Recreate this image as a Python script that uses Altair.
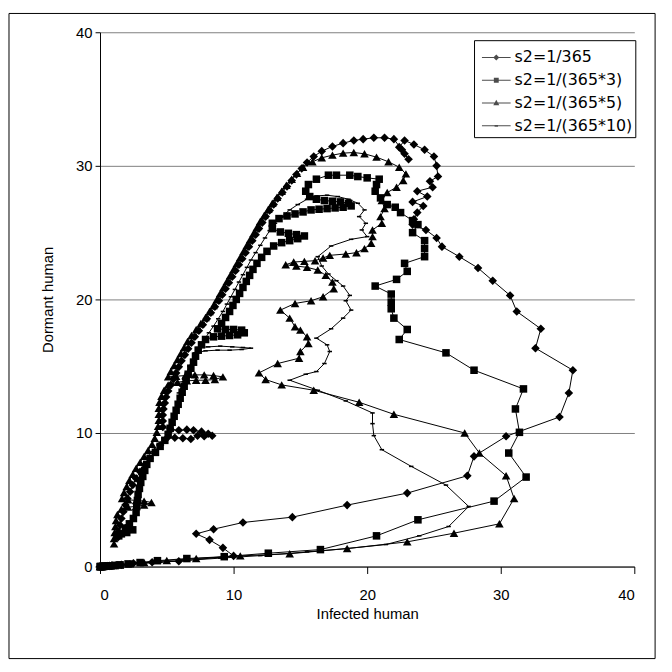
import altair as alt
import pandas as pd

names = ["s2=1/365", "s2=1/(365*3)", "s2=1/(365*5)", "s2=1/(365*10)"]

# ---------------- s2 = 1/365 (diamonds) ----------------
diamond_start = [(0,0),(0.05,0.0),(0.1,0.0),(0.15,0.01),(0.2,0.01),(0.3,0.02),(0.4,0.03),(0.55,0.04),
    (0.7,0.05),(0.9,0.07),(1.2,0.1),(1.6,0.14),(2.5,0.25),(3.9,0.32),(5.9,0.4),(10.0,0.8),(9.2,1.4),
    (8.2,2.0),(7.2,2.45),(8.5,2.8),(10.7,3.3),(14.4,3.7),(18.5,4.6),(23.0,5.5),(27.5,6.8),(28.0,8.25),
    (30.4,9.75),(34.4,11.2),(35.1,13.0),(35.4,14.7),(32.6,16.35),(33.0,17.8),(31.2,19.1),(30.7,20.3),
    (29.4,21.4),(28.3,22.35),(26.9,23.2),(25.6,23.95),(25.2,24.6),(24.4,25.2),(23.4,25.6),(23.5,26.0),
    (23.75,26.5),(24.2,27.0),(23.4,27.3),(24.5,27.7),(23.75,28.1),(24.9,28.4),(24.7,28.85),(25.3,29.2),
    (25.2,30.0),(25.0,30.7),(24.3,31.2),(23.5,31.6),(22.8,31.9),(22.4,31.4),(22.8,30.9),(23.1,30.5),
    (22.6,31.2),(22.0,32.0),(21.3,32.1),(20.5,32.1),(19.7,32.0),(19.0,31.9),(18.2,31.7),(17.4,31.45),
    (16.6,31.1)]
diamond_band = [(16.0,30.7),(15.5,30.25),(15.1,29.8),(14.7,29.35),(14.35,28.9),(14.0,28.45),(13.65,28.0),
    (13.3,27.55),(13.0,27.1),(12.7,26.65),(12.4,26.2),(12.15,25.75),(11.9,25.3),(11.65,24.85),(11.4,24.4),
    (11.15,23.95),(10.9,23.5),(10.65,23.05),(10.4,22.6),(10.15,22.15),(9.9,21.7),(9.65,21.25),(9.4,20.8),
    (9.15,20.35),(8.9,19.9),(8.6,19.45),(8.3,19.0),(8.0,18.55),(7.7,18.1),(7.4,17.65),(7.1,17.2),
    (6.85,16.75),(6.6,16.3),(6.35,15.85),(6.1,15.4),(5.9,14.95),(5.7,14.5),(5.5,14.05),(5.3,13.6),
    (5.1,13.15),(4.95,12.7),(4.85,12.25),(4.75,11.8),(4.7,11.35),(4.7,10.9),(4.7,10.45),(5.3,10.25),
    (5.9,10.2),(6.5,10.25),(7.0,10.2),(7.6,10.1),(8.1,9.95),(8.4,9.8),(7.8,9.75),(7.3,9.8),(6.8,9.55),
    (6.2,9.6),(5.6,9.65),(5.0,9.6),(4.5,9.1),(4.1,8.6),(3.7,8.1),(3.35,7.6),(3.0,7.1),(2.7,6.6),
    (2.45,6.1),(2.25,5.6),(2.05,5.1),(1.9,4.6),(1.75,4.1),(1.6,3.6),(1.5,3.1),(1.4,2.6),(1.35,2.2)]

# ---------------- s2 = 1/(365*3) (squares) ----------------
square_start = [(0,0),(0.05,0),(0.1,0.0),(0.2,0.01),(0.3,0.02),(0.45,0.03),(0.6,0.05),(0.8,0.06),
    (1.1,0.09),(1.5,0.13),(2.1,0.2),(3.0,0.3),(4.3,0.44),(6.5,0.6),(9.3,0.74),(12.6,1.0),(16.5,1.27),
    (20.7,2.3),(23.8,3.5),(29.5,4.9),(31.9,6.7),(30.6,8.5),(31.4,10.05),(31.1,11.8),(31.7,13.3),
    (28.0,14.7),(25.9,16.0),(22.4,17.0),(23.0,17.75),(22.0,18.6),(21.8,19.3),(21.8,19.8),(21.8,20.4),
    (20.6,21.0),(22.2,21.5),(23.0,22.1),(22.8,22.7),(24.3,23.2),(24.3,23.8),(24.3,24.4),(23.4,25.0),
    (23.8,25.6),(23.4,25.9),(22.5,26.5),(22.1,26.9),(21.5,27.1),(21.0,27.6),(20.6,28.1),(20.7,28.6),
    (20.9,29.0),(20.0,29.1),(19.3,29.2),(18.7,29.3),(17.7,29.3),(17.1,29.3),(16.2,29.0),(15.6,28.6),
    (15.4,28.1),(15.7,27.7),(16.2,27.5),(16.8,27.4),(17.4,27.35),(18.0,27.3),(18.6,27.2),(18.8,27.0),
    (18.2,26.9),(17.6,26.85),(17.0,26.8),(16.4,26.75),(15.8,26.7),(15.2,26.55),(14.6,26.4),(14.0,26.25),
    (13.4,26.05),(12.9,25.7),(12.9,25.3),(13.5,25.05),(14.1,24.95),(14.7,24.85),(15.3,24.75),(14.8,24.55),
    (14.2,24.4),(13.6,24.25),(13.0,24.0)]
square_band = [(12.5,23.6),(12.1,23.15),(11.75,22.7),(11.45,22.25),(11.2,21.8),(10.95,21.35),(10.7,20.9),
    (10.45,20.45),(10.2,20.0),(9.95,19.55),(9.7,19.1),(9.4,18.65),(9.1,18.2),(8.8,17.8),(9.4,17.75),
    (10.0,17.75),(10.6,17.7),(10.8,17.5),(10.3,17.35),(9.7,17.3),(9.1,17.25),(8.5,17.2),(7.9,17.0),
    (7.6,16.6),(7.35,16.2),(7.15,15.75),(7.0,15.3),(6.8,14.85),(6.6,14.4),(6.45,13.95),(6.3,13.5),
    (6.15,13.05),(6.0,12.6),(5.85,12.15),(5.7,11.7),(5.55,11.25),(5.4,10.8),(5.25,10.35),(5.1,9.9),
    (4.85,9.45),(4.5,9.0),(4.15,8.55),(3.75,8.1),(3.5,7.65),(3.35,7.2),(3.2,6.75),(3.05,6.3),(2.95,5.85),
    (2.85,5.4),(2.8,4.95),(2.75,4.5),(2.7,4.05),(2.5,3.6),(2.2,3.2),(1.9,2.85),(2.1,2.9),(2.45,2.75),
    (2.0,2.55),(1.6,2.45),(1.4,2.3)]

# ---------------- s2 = 1/(365*5) (triangles) ----------------
triangle_start = [(0,0),(0.05,0),(0.1,0.01),(0.2,0.01),(0.3,0.02),(0.45,0.03),(0.6,0.04),(0.8,0.06),
    (1.1,0.08),(1.5,0.12),(2.2,0.2),(3.3,0.3),(5.0,0.45),(7.2,0.6),(10.5,0.8),(14.2,0.96),(18.5,1.35),
    (23.0,1.85),(26.5,2.5),(29.9,3.2),(31.0,5.1),(30.4,6.8),(28.4,8.5),(27.3,10.0),(22.0,11.4),(19.4,12.3),
    (16.0,13.2),(13.6,13.6),(12.4,14.0),(11.9,14.5),(13.3,15.2),(14.9,15.6),(15.0,16.1),(15.6,16.7),
    (15.5,17.2),(15.0,17.7),(14.6,17.95),(14.2,18.6),(13.5,19.2),(14.6,19.7),(15.8,19.9),(16.7,20.2),
    (17.5,20.8),(17.4,21.3),(16.9,21.8),(16.3,22.2),(15.5,22.4),(14.7,22.5),(13.9,22.6),(14.5,22.8),
    (15.3,22.85),(16.1,22.9),(16.7,23.1),(17.2,23.3),(18.4,23.4),(19.2,23.5),(19.8,23.8),(20.3,24.2),
    (20.4,24.7),(20.4,25.2),(21.1,25.7),(21.0,26.2),(21.3,26.8),(21.1,27.4),(21.5,28.0),(22.2,28.4),
    (22.7,28.9),(22.9,29.4),(22.4,29.9),(21.6,30.3),(20.7,30.65),(19.8,30.9),(19.0,31.0),(18.2,30.95),
    (17.4,30.8),(16.6,30.6),(15.9,30.3)]
triangle_band = [(15.2,29.9),(14.75,29.45),(14.35,29.0),(13.95,28.55),(13.6,28.1),(13.25,27.65),(12.9,27.2),
    (12.6,26.75),(12.3,26.3),(12.0,25.85),(11.75,25.4),(11.5,24.95),(11.25,24.5),(11.0,24.05),(10.75,23.6),
    (10.5,23.15),(10.25,22.7),(10.0,22.25),(9.75,21.8),(9.5,21.35),(9.25,20.9),(9.0,20.45),(8.75,20.0),
    (8.5,19.55),(8.2,19.1),(7.9,18.65),(7.55,18.2),(7.2,17.75),(6.85,17.3),(6.55,16.85),(6.3,16.4),
    (6.05,15.95),(5.8,15.5),(5.55,15.05),(5.3,14.6),(5.1,14.2),(5.7,14.25),(6.4,14.3),(7.1,14.35),
    (7.8,14.35),(8.5,14.3),(9.2,14.2),(8.6,14.0),(7.9,13.95),(7.2,13.95),(6.5,13.9),(5.8,13.8),(5.1,13.6),
    (4.8,13.2),(4.6,12.75),(4.45,12.3),(4.4,11.85),(4.4,11.4),(4.4,10.95),(4.35,10.5),(4.25,10.05),
    (4.1,9.6),(3.9,9.15),(3.6,8.7),(3.3,8.25),(3.0,7.8),(2.7,7.35),(2.45,6.9),(2.2,6.45),(2.0,6.0),
    (1.8,5.55),(1.65,5.1),(2.1,5.0),(2.7,4.95),(3.3,4.9),(3.85,4.8),(3.3,4.6),(2.7,4.5),(2.1,4.45),
    (1.6,4.3),(1.3,3.9),(1.2,3.45),(1.15,3.0),(1.1,2.55),(1.05,2.1),(1.05,1.7)]

# ---------------- s2 = 1/(365*10) (small dashes) ----------------
dash_start = [(0,0),(0.05,0),(0.1,0),(0.2,0.01),(0.35,0.02),(0.5,0.03),(0.7,0.05),(1.0,0.07),(1.4,0.1),
    (2.0,0.15),(3.0,0.22),(4.5,0.32),(6.5,0.47),(9.0,0.63),(12.0,0.82),(15.5,1.1),(18.5,1.35),(21.4,1.65),
    (23.9,2.3),(26.1,3.0),(27.6,4.5),(25.9,6.1),(23.3,7.5),(21.1,8.75),(20.5,9.8),(20.4,10.7),(20.4,11.5),
    (18.4,12.4),(16.3,13.2),(14.2,13.95),(15.4,14.4),(16.2,14.6),(16.8,15.2),(17.2,16.1),(17.0,16.6),
    (16.2,17.1),(17.3,17.8),(18.2,18.6),(18.8,19.2),(18.4,19.9),(18.7,20.3),(18.2,21.0),(17.7,21.4),
    (17.1,21.9),(16.6,22.5),(16.3,23.2),(17.3,24.0),(18.8,24.5),(20.0,24.7),(19.6,25.2),(19.9,25.7),
    (19.4,26.2),(19.8,26.7),(19.3,27.2),(18.6,27.5),(17.8,27.7),(17.0,27.8),(16.2,27.75),(15.5,27.5),
    (14.8,27.1),(14.2,26.7),(13.6,26.2)]
dash_band = [(13.1,25.7),(12.7,25.15),(12.35,24.6),(12.0,24.05),(11.65,23.5),(11.3,22.95),(11.0,22.4),
    (10.7,21.85),(10.4,21.3),(10.1,20.75),(9.8,20.2),(9.5,19.65),(9.2,19.1),(8.85,18.55),(8.5,18.0),
    (8.15,17.5),(7.8,17.0),(7.5,16.55),(7.3,16.4),(8.1,16.45),(9.0,16.5),(9.9,16.45),(10.7,16.4),
    (11.3,16.35),(10.6,16.25),(9.7,16.2),(8.8,16.2),(7.9,16.15),(7.1,16.0),(6.9,15.5),(6.7,15.0),
    (6.5,14.5),(6.3,14.0),(6.1,13.5),(5.9,13.0)]

x_ticks = [0, 10, 20, 30, 40]
y_ticks = [0, 10, 20, 30, 40]

FONT = "Liberation Sans"
LEGEND_FONT = "DejaVu Sans"

def frame(name, *parts):
    pts = [p for part in parts for p in part]
    return pd.DataFrame({
        "series": name,
        "x": [p[0] for p in pts],
        "y": [p[1] for p in pts],
        "order": list(range(len(pts))),
    })

x_enc = alt.X("x:Q", scale=alt.Scale(domain=[0, 40], nice=False, zero=False),
              axis=alt.Axis(values=x_ticks, grid=False, title="Infected human",
                            tickSize=7, labelPadding=14, titleX=270, titleY=47,
                            titleBaseline="middle", titleAlign="center"))
y_enc = alt.Y("y:Q", scale=alt.Scale(domain=[0, 40], nice=False, zero=False),
              axis=alt.Axis(values=y_ticks, grid=True, title="Dormant human",
                            tickSize=5, labelPadding=3, titleX=-53, titleY=270,
                            titleBaseline="middle", titleAlign="center", titleAngle=270))

dash_shape = "M-1,-0.35L1,-0.35L1,0.35L-1,0.35Z"
series_specs = [
    (frame(names[0], diamond_start, diamond_band), "diamond", 75),
    (frame(names[1], square_start, square_band), "square", 58),
    (frame(names[2], triangle_start, triangle_band), "triangle-up", 75),
    (frame(names[3], dash_start, dash_band), dash_shape, 20),
]

layers = []
for df, shape, size in series_specs:
    base = alt.Chart(df)
    layers.append(base.mark_line(color="black", strokeWidth=1).encode(
        x=x_enc, y=y_enc, order=alt.Order("order:Q")))
    layers.append(base.mark_point(shape=shape, filled=True, size=size, color="black",
                                  opacity=1, strokeWidth=0).encode(x=x_enc, y=y_enc))

# legend (line + marker symbols, drawn as filled paths)
LINE = "M-1,-0.035L1,-0.035L1,0.035L-1,0.035Z"
legend_paths = [
    LINE + "M0,-0.21L0.21,0L0,0.21L-0.21,0Z",
    LINE + "M-0.17,-0.17L0.17,-0.17L0.17,0.17L-0.17,0.17Z",
    LINE + "M0,-0.22L0.21,0.16L-0.21,0.16Z",
    LINE + "M-0.12,-0.06L0.12,-0.06L0.12,0.06L-0.12,0.06Z",
]
legend_df = pd.DataFrame({"series": names, "x": [0.0] * 4, "y": [0.0] * 4})
legend_layer = alt.Chart(legend_df).transform_filter("datum.x > 100").mark_point(
    filled=True, color="black").encode(
    x=x_enc, y=y_enc,
    shape=alt.Shape("series:N", scale=alt.Scale(domain=names, range=legend_paths),
                    legend=alt.Legend(title=None, orient="none", legendX=378, legendY=8,
                                      padding=3, fillColor="white", strokeColor="black",
                                      symbolSize=840, symbolStrokeWidth=0,
                                      symbolFillColor="black", symbolOffset=5,
                                      labelFont=LEGEND_FONT, labelFontSize=16, labelColor="black",
                                      rowPadding=0, labelOffset=4, labelLimit=0)))
layers.append(legend_layer)

# outer chart frame
frame_layer = alt.Chart(pd.DataFrame({"a": [0]})).mark_rect(
    fillOpacity=0, stroke="black", strokeWidth=1).encode(
    x=alt.value(-92), x2=alt.value(561), y=alt.value(-19), y2=alt.value(633))
layers.append(frame_layer)

chart = alt.layer(*layers).properties(
    width=540, height=540,
    autosize=alt.AutoSizeParams(type="none"),
    padding={"left": 93, "top": 21, "right": 30, "bottom": 100},
).configure_view(strokeWidth=0).configure_axis(
    labelFont=FONT, titleFont=FONT, labelFontSize=15, titleFontSize=15,
    labelColor="black", titleColor="black", titleFontWeight="normal",
    domainColor="black", tickColor="black", gridColor="#808080", gridWidth=1,
    domainWidth=1, tickWidth=1,
)

chart.save("out.html", embed_options={"renderer": "svg", "actions": False})
